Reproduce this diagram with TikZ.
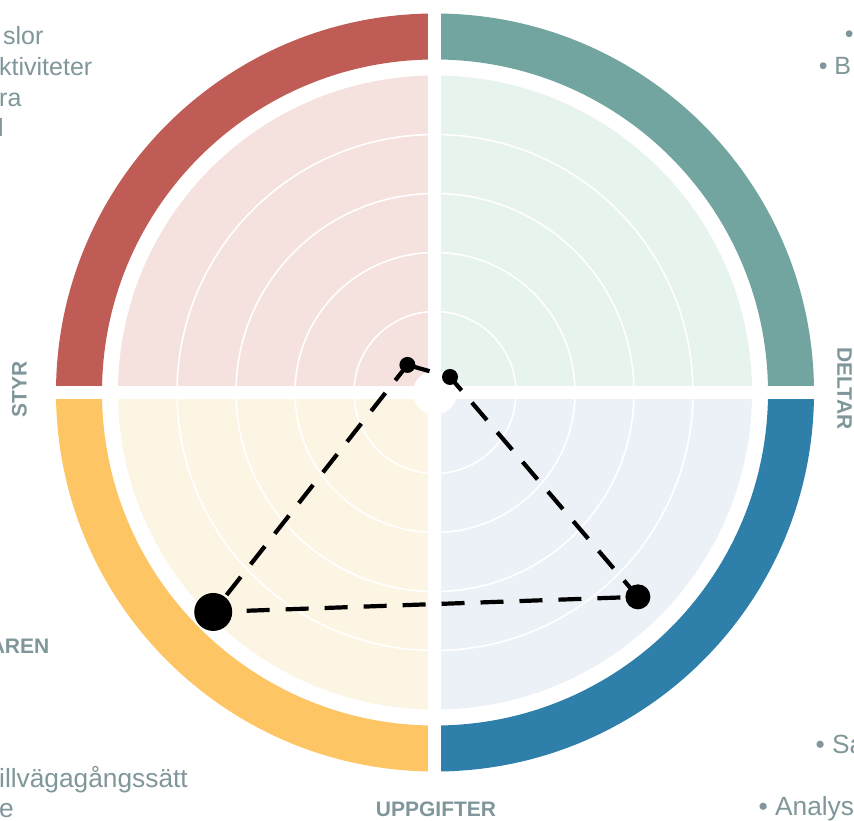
\documentclass[tikz,border=0pt]{standalone}
\usepackage{fontspec}
\setmainfont{Liberation Sans}
\usepackage{tikz}

\definecolor{ringred}{HTML}{BF5C56}
\definecolor{ringteal}{HTML}{72A4A0}
\definecolor{ringyellow}{HTML}{FDC564}
\definecolor{ringblue}{HTML}{2E80AA}
\definecolor{fillred}{HTML}{F5E1DD}
\definecolor{fillteal}{HTML}{E7F3ED}
\definecolor{fillyellow}{HTML}{FDF5E4}
\definecolor{fillblue}{HTML}{ECF1F7}
\definecolor{textgray}{HTML}{7F969A}

\tikzset{
    sidetext/.style={font=\fontsize{25}{30}\selectfont, text=textgray, inner sep=0pt, anchor=base west},
    bigtext/.style={sidetext, font=\fontsize{26.3}{30}\selectfont},
    axislabel/.style={font=\fontsize{21}{25}\selectfont\bfseries, text=textgray, inner sep=0pt}
}

\begin{document}
\begin{tikzpicture}[x=1pt, y=1pt]
    \useasboundingbox (-435,-427.5) rectangle (419,392.5);

    \foreach \a/\ring/\inner in {0/ringteal/fillteal, 90/ringred/fillred, 180/ringyellow/fillyellow, 270/ringblue/fillblue} {
        \fill[\ring] (\a:379) arc[start angle=\a, end angle=\a+90, radius=379]
            -- (\a+90:333) arc[start angle=\a+90, end angle=\a, radius=333] -- cycle;
        \fill[\inner] (0,0) -- (\a:317) arc[start angle=\a, end angle=\a+90, radius=317] -- cycle;
    }

    % Skala: 59 per steg
    \foreach \r in {81,140,199,258}
        \draw[white, line width=1.6pt] (0,0) circle (\r);
    \fill[white] (0,0) circle (22);
    \fill[white] (-385,-6.5) rectangle (385,6.5);
    \fill[white] (-6.5,-385) rectangle (6.5,385);

    \coordinate (p1) at (135:39);
    \coordinate (p2) at (46:21.6);
    \coordinate (p3) at (-45.2:288);
    \coordinate (p4) at (224.7:312);
    \draw[line width=4.2pt, dash pattern=on 23pt off 16pt] (p1) -- (p2) -- (p3) -- (p4) -- cycle;
    \foreach \p/\s in {p1/8, p2/8, p3/12.5, p4/19}
        \fill[black] (\p) circle (\s);

    \node[axislabel, rotate=90] (styr) at (-415.5,3.5) {STYR};
    \node[axislabel, rotate=-90] (deltar) at (409.5,4) {DELTAR};
    \node[axislabel] (uppgifter) at (1,-417) {UPPGIFTER};
    \node[axislabel, anchor=east] (aren) at (-385.5,-254) {AREN};

    \node[sidetext] (styr1) at (-432,348.5) {slor};
    \node[sidetext] (styr2) at (-436,317.5) {ktiviteter};
    \node[sidetext] (styr3) at (-436,286.5) {ra};
    \node[sidetext] (styr4) at (-437,256.5) {l};
    \node[bigtext] (aren1) at (-436,-394.5) {illvägagångssätt};
    \node[bigtext] (aren2) at (-436,-424.5) {e};
    \node[sidetext] (deltar1) at (409.6,349.5) {\textbullet};
    \node[sidetext] (deltar2) at (383.6,318.5) {\textbullet\ B};
    \node[bigtext] (uppg1) at (380.4,-360.5) {\textbullet\ Sa};
    \node[bigtext] (uppg2) at (323.4,-422.5) {\textbullet\ Analys};
\end{tikzpicture}
\end{document}
